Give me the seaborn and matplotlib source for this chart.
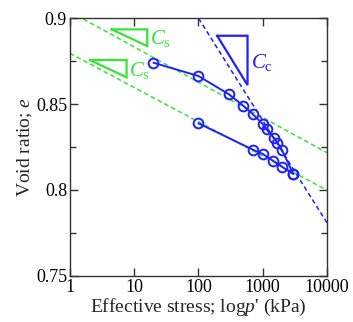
import numpy as np
import pandas as pd
import matplotlib
matplotlib.use('Agg')
import matplotlib.pyplot as plt
import seaborn as sns

# consolidation curves (p' in kPa, void ratio e)
upper_p = [20, 100, 300, 500, 700, 1000, 1150, 1500, 1700, 2000, 3000]
upper_e = [0.874, 0.8663, 0.8556, 0.849, 0.8442, 0.8384, 0.8353, 0.8302, 0.8275, 0.8233, 0.8093]
lower_p = [100, 700, 1000, 1450, 2000, 3000]
lower_e = [0.8388, 0.8235, 0.8210, 0.8170, 0.8135, 0.8093]

# reference lines: e at p'=1 kPa and slope per log cycle
cs_upper = (0.9037, 0.0205)
cs_lower = (0.8795, 0.0199)
cc_line = (1.019, 0.0595)

# slope triangles: (p left, p right, e top, e bottom)
tri_cc = (196, 582, 0.8897, 0.8610)
tri_cs1 = (4.46, 16.0, 0.8934, 0.8837)
tri_cs2 = (2.05, 7.63, 0.8756, 0.8655)

BLUE = '#1f1fff'
GREEN = '#33e633'

sns.set_style('ticks')
plt.rcParams['font.family'] = ['Liberation Serif', 'DejaVu Serif']
plt.rcParams['mathtext.fontset'] = 'custom'
plt.rcParams['mathtext.rm'] = 'Liberation Serif'
plt.rcParams['mathtext.it'] = 'Liberation Serif:italic'

fig = plt.figure(figsize=(3.53, 3.22), dpi=100)
ax = fig.add_axes([0.198, 0.143, 0.728, 0.801])
ax.set_xscale('log')

pp = np.logspace(0, 4, 50)
for e0, k, col in [(cs_upper[0], cs_upper[1], GREEN), (cs_lower[0], cs_lower[1], GREEN),
                   (cc_line[0], cc_line[1], BLUE)]:
    ax.plot(pp, e0 - k * np.log10(pp), ls=(0, (3, 2)), color=col, lw=1.1, zorder=2)

df_up = pd.DataFrame({'p': upper_p, 'e': upper_e})
df_lo = pd.DataFrame({'p': lower_p, 'e': lower_e})
for d in [df_up, df_lo]:
    sns.lineplot(data=d, x='p', y='e', ax=ax, sort=False, color=BLUE, lw=1.4,
                 marker='o', markersize=7, markerfacecolor='none',
                 markeredgecolor=BLUE, markeredgewidth=1.4, zorder=3)

for (pl, pr, et, eb), col in [(tri_cc, BLUE), (tri_cs1, GREEN), (tri_cs2, GREEN)]:
    ax.plot([pl, pr, pr, pl], [et, et, eb, et], color=col, lw=1.6, solid_joinstyle='miter')

ax.text(650, 0.874, r'$\mathit{C}_\mathrm{c}$', color=BLUE, fontsize=15, va='center')
ax.text(17.5, 0.888, r'$\mathit{C}_\mathrm{s}$', color=GREEN, fontsize=15, va='center')
ax.text(8.4, 0.8695, r'$\mathit{C}_\mathrm{s}$', color=GREEN, fontsize=15, va='center')

ax.set_xlim(1, 10000)
ax.set_ylim(0.75, 0.9)
ax.set_xticks([1, 10, 100, 1000, 10000])
ax.set_xticklabels(['1', '10', '100', '1000', '10000'])
ax.xaxis.set_minor_locator(matplotlib.ticker.NullLocator())
ax.set_yticks([0.75, 0.8, 0.85, 0.9])
ax.set_yticklabels(['0.75', '0.8', '0.85', '0.9'])
ax.set_yticks([0.775, 0.825, 0.875], minor=True)
ax.tick_params(which='both', direction='in', top=True, right=True, colors='#333333',
               labelcolor='black', labelsize=13, pad=2)
ax.tick_params(which='major', length=6, width=1)
ax.tick_params(which='minor', length=4, width=1)
for s in ax.spines.values():
    s.set_color('#333333')
    s.set_linewidth(1)

ax.set_xlabel(r"Effective stress; log$\mathit{p}$' (kPa)", fontsize=14, labelpad=1)
ax.set_ylabel(r'Void ratio; $\mathit{e}$', fontsize=14, labelpad=1)

fig.savefig('out.png', dpi=100)
